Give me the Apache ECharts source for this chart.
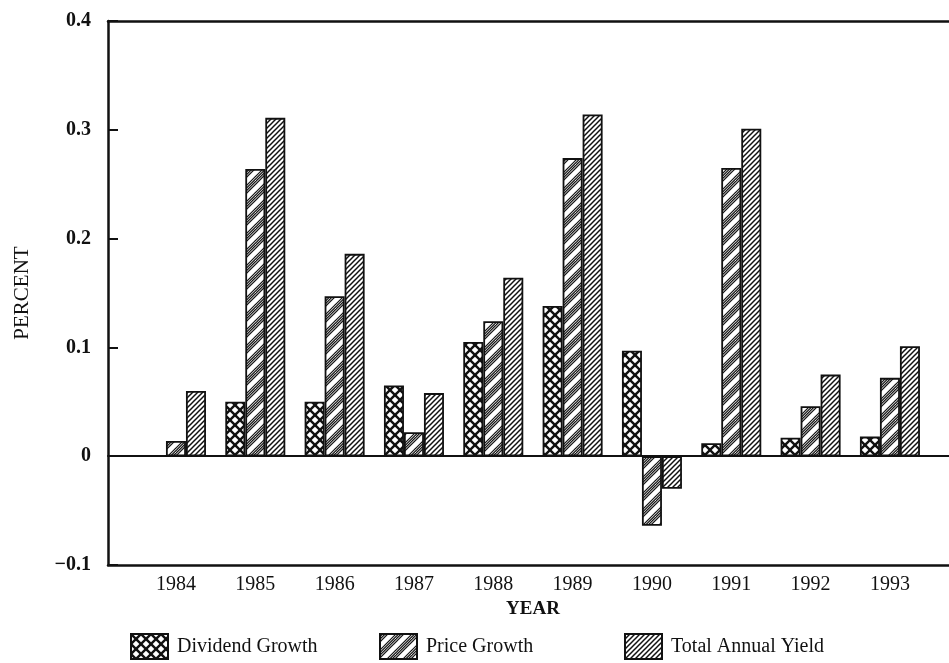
<!DOCTYPE html>
<html>
<head>
<meta charset="utf-8">
<script src="https://cdn.jsdelivr.net/npm/echarts@6/dist/echarts.min.js"></script>
<style>
  html, body { margin: 0; padding: 0; background: #fff; }
  #chart { width: 949px; height: 663px; }
</style>
</head>
<body>
<div id="chart"></div>
<script>
// Annual growth figures, 1984-1993
const years = ['1984', '1985', '1986', '1987', '1988', '1989', '1990', '1991', '1992', '1993'];
const dividendGrowth = [null, 0.050, 0.050, 0.065, 0.105, 0.138, 0.097, 0.012, 0.017, 0.018];
const priceGrowth    = [0.014, 0.264, 0.147, 0.022, 0.124, 0.274, -0.064, 0.265, 0.046, 0.072];
const totalYield     = [0.060, 0.311, 0.186, 0.058, 0.164, 0.314, -0.030, 0.301, 0.075, 0.101];
const yTicks = [-0.1, 0, 0.1, 0.2, 0.3, 0.4];
const seriesNames = ['Dividend Growth', 'Price Growth', 'Total Annual Yield'];

const INK = '#111';
const SERIF = '"Liberation Serif", "DejaVu Serif", serif';

// Builds a repeating hatch tile: "/" lines at the given offsets, optionally crossed with "\" lines
function hatchTile(size, offsets, width, crossed) {
  const c = document.createElement('canvas');
  c.width = c.height = size;
  const g = c.getContext('2d');
  g.fillStyle = '#fff';
  g.fillRect(0, 0, size, size);
  g.strokeStyle = INK;
  g.lineWidth = width;
  for (const o of offsets) {
    for (let k = -2; k <= 2; k++) {
      const c0 = o + k * size;
      g.beginPath();
      g.moveTo(c0 + size, -size);
      g.lineTo(c0 - 2 * size, 2 * size);
      g.stroke();
      if (crossed) {
        g.beginPath();
        g.moveTo(c0 - size, -size);
        g.lineTo(c0 + 2 * size, 2 * size);
        g.stroke();
      }
    }
  }
  return { image: c, repeat: 'repeat' };
}

const fills = [
  hatchTile(10, [0], 2.4, true),                 // cross-hatch with open diamonds
  hatchTile(16, [0, 2.6, 5.2, 7.8], 1.2, false), // banded diagonal
  hatchTile(5, [0], 1.5, false)                  // dense diagonal
];

const bareAxis = {
  type: 'value', min: 0, max: 1, gridIndex: 0,
  axisTick: { show: false }, axisLabel: { show: false }, splitLine: { show: false }
};

function fmtTick(v) {
  if (Math.abs(v) < 1e-9) return '0';
  return (v < 0 ? '\u2212' : '') + Math.abs(v).toFixed(1);
}

const legendLefts = [130, 379, 624];

const option = {
  backgroundColor: '#fff',
  animation: false,
  grid: [
    { left: 108, right: 0, top: 21, bottom: 98 },
    { left: 136.3, width: 793.3, top: 21, bottom: 98 }
  ],
  xAxis: [
    Object.assign({}, bareAxis, { position: 'bottom', axisLine: { show: true, onZero: false, lineStyle: { color: INK, width: 2.5 } } }),
    Object.assign({}, bareAxis, { position: 'top', axisLine: { show: true, onZero: false, lineStyle: { color: INK, width: 2.5 } } }),
    Object.assign({}, bareAxis, { position: 'bottom', axisLine: { show: true, onZero: true, lineStyle: { color: INK, width: 2 } } }),
    {
      type: 'category', gridIndex: 1, data: years, boundaryGap: true,
      axisLine: { show: false, onZero: false }, axisTick: { show: false },
      axisLabel: { color: INK, fontFamily: SERIF, fontSize: 20, margin: 10 },
      name: 'YEAR', nameLocation: 'middle', nameGap: 32,
      nameTextStyle: { color: INK, fontFamily: SERIF, fontSize: 19, fontWeight: 'bold' }
    }
  ],
  yAxis: [
    {
      type: 'value', gridIndex: 0, min: yTicks[0], max: yTicks[yTicks.length - 1], interval: 0.1,
      axisLine: { show: true, onZero: false, lineStyle: { color: INK, width: 2.5 } },
      axisTick: { show: true, inside: true, length: 10, lineStyle: { color: INK, width: 2 } },
      axisLabel: { color: INK, fontFamily: SERIF, fontSize: 20, fontWeight: 'bold', margin: 17, formatter: fmtTick },
      splitLine: { show: false },
      name: 'PERCENT', nameLocation: 'middle', nameGap: 75, nameRotate: 90,
      nameTextStyle: { color: INK, fontFamily: SERIF, fontSize: 21 }
    },
    {
      type: 'value', gridIndex: 1, min: yTicks[0], max: yTicks[yTicks.length - 1], interval: 0.1,
      show: false
    }
  ],
  legend: seriesNames.map((n, i) => ({
    data: [{ name: n, icon: 'rect' }], left: legendLefts[i], top: 633, padding: 0,
    itemWidth: 37, itemHeight: 25, itemGap: 0,
    textStyle: { color: INK, fontFamily: SERIF, fontSize: 20, padding: [8, 0, 0, 4] },
    selectedMode: false
  })),
  series: [dividendGrowth, priceGrowth, totalYield].map((d, i) => ({
    name: seriesNames[i],
    type: 'bar',
    xAxisIndex: 3, yAxisIndex: 1,
    data: d,
    barWidth: 20,
    barGap: '0%',
    itemStyle: { color: fills[i], borderColor: INK, borderWidth: 1.8 }
  }))
};

const chart = echarts.init(document.getElementById('chart'), null, { renderer: 'canvas' });
chart.setOption(option);
</script>
</body>
</html>
